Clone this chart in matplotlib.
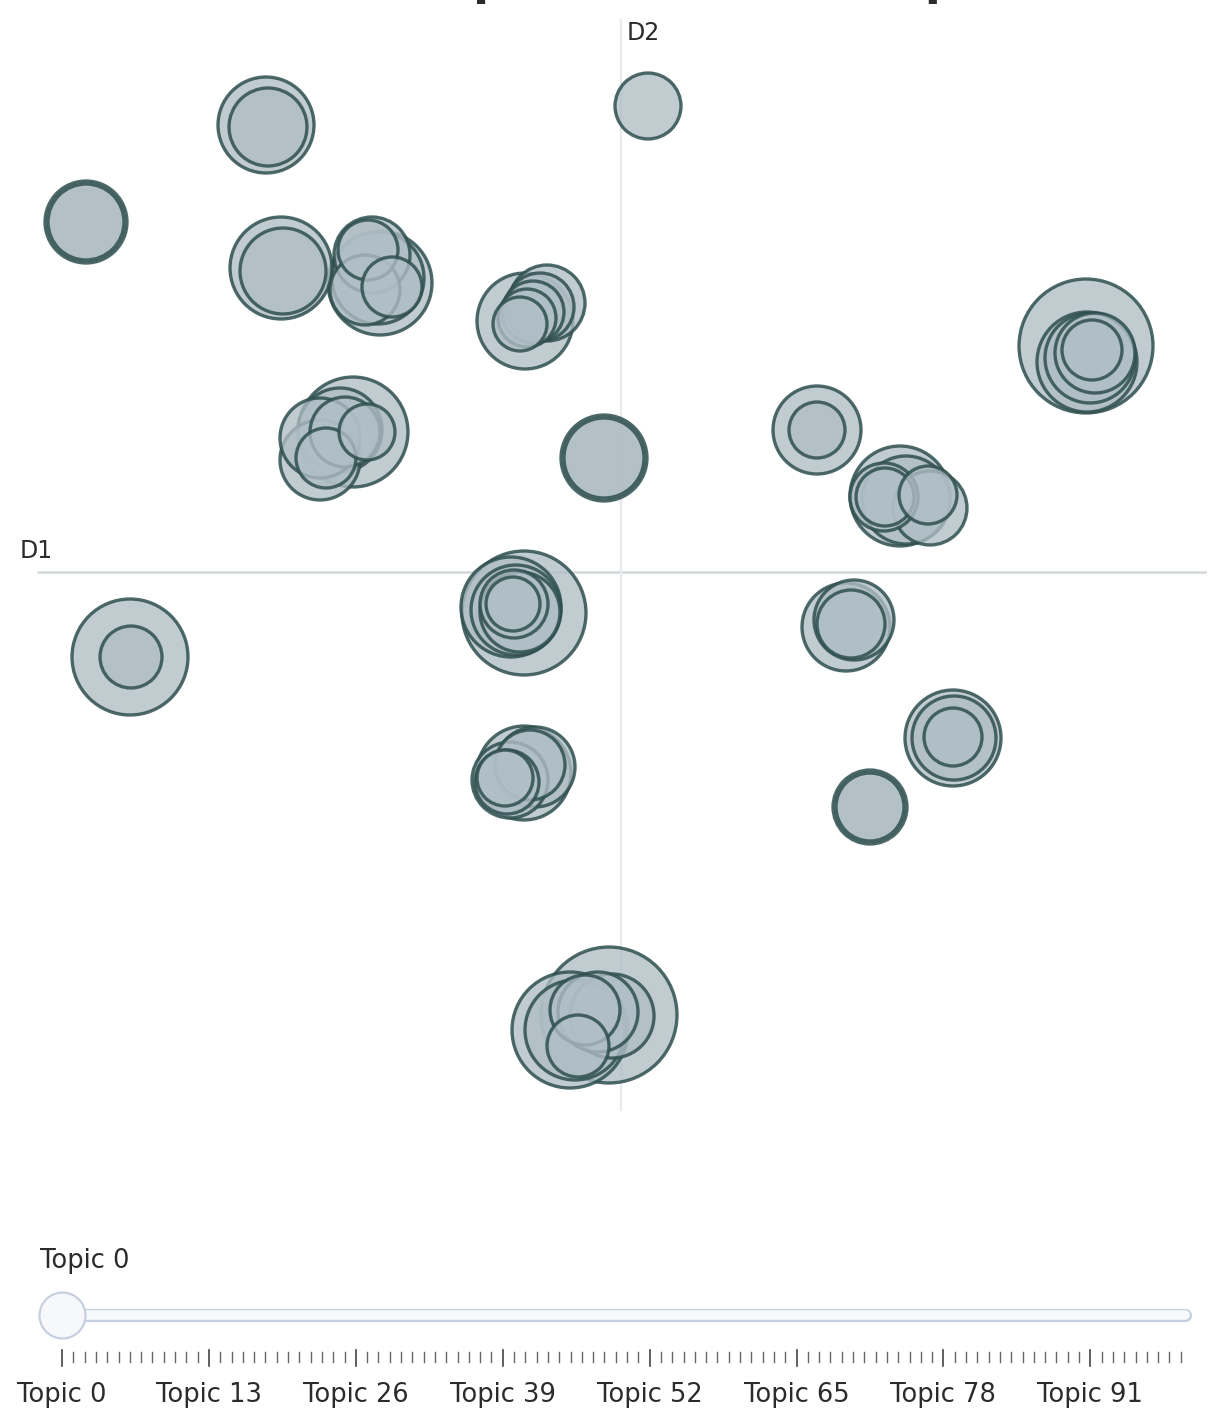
import numpy as np
import matplotlib
matplotlib.use("Agg")
import matplotlib.pyplot as plt

# ---------------- data ----------------
# topic coordinates in the 2-D embedding (D1, D2) and topic sizes
d1 = [0.27, -3.55, -3.53, -5.35, -5.35, -3.40, -3.38,
      -2.41, -2.43, -2.49, -2.53, -2.29, -2.56,
      -0.96, -0.74, -0.81, -0.88, -0.94, -1.01,
      4.65, 4.66, 4.69, 4.74, 4.71,
      1.96, 1.96,
      -2.68, -3.01, -3.01, -2.81, -2.76, -2.95, -2.54,
      -0.17, -0.17,
      2.79, 2.85, 3.09, 2.63, 2.64, 3.07,
      -4.91, -4.90,
      -0.97, -1.10, -1.05, -1.01, -1.07, -1.08,
      2.25, 2.33, 2.30,
      3.32, 3.33, 3.32,
      2.49, 2.49,
      -0.97, -0.86, -0.91, -1.11, -1.14, -1.16,
      -0.12, -0.51, -0.46, -0.09, -0.23, -0.36, -0.43]
d2 = [4.66, 4.47, 4.45, 3.50, 3.50, 3.04, 3.01,
      2.89, 2.94, 3.17, 3.22, 2.85, 2.82,
      2.51, 2.69, 2.65, 2.60, 2.54, 2.48,
      2.26, 2.10, 2.14, 2.19, 2.22,
      1.42, 1.42,
      1.40, 1.12, 1.34, 1.42, 1.40, 1.14, 1.40,
      1.14, 1.14,
      0.76, 0.72, 0.64, 0.75, 0.75, 0.77,
      -0.85, -0.85,
      -0.41, -0.35, -0.38, -0.40, -0.32, -0.32,
      -0.55, -0.48, -0.52,
      -1.66, -1.66, -1.65,
      -2.35, -2.35,
      -2.01, -1.95, -1.93, -2.08, -2.10, -2.06,
      -4.43, -4.58, -4.58, -4.44, -4.40, -4.38, -4.74]
sizes = [272, 576, 380, 420, 361, 650, 462,
         676, 529, 361, 225, 225, 306,
         576, 361, 289, 240, 210, 182,
         1122, 625, 506, 400, 225,
         484, 196,
         756, 400, 400, 441, 306, 225, 196,
         462, 400,
         625, 484, 342, 289, 210, 210,
         841, 240,
         961, 625, 506, 400, 289, 182,
         484, 400, 289,
         576, 441, 210,
         342, 289,
         552, 400, 306, 361, 256, 196,
         1156, 841, 625, 441, 400, 306, 240]

n_topics = 100
slider_labels = ["Topic 0", "Topic 13", "Topic 26", "Topic 39",
                 "Topic 52", "Topic 65", "Topic 78", "Topic 91"]
slider_label_idx = [0, 13, 26, 39, 52, 65, 78, 91]
current_topic = "Topic 0"
title = "Intertopic Distance Map"

# ---------------- figure ----------------
W, H, DPI = 1215, 1411, 100
fig = plt.figure(figsize=(W / DPI, H / DPI), dpi=DPI)
fig.patch.set_facecolor("white")

TXT = "#2b2b2b"
FONT = "DejaVu Sans"

# main scatter axes
ax = fig.add_axes([0, (H - 1160) / H, 1, 1160 / H])
ax.set_xlim(-6.21, 5.94)
ax.set_ylim(-5.88, 5.72)
ax.axis("off")

# axis guide lines
ax.plot([-5.83, 5.84], [0, 0], color="#d3d8db", lw=1.8, zorder=0)
ax.plot([0, 0], [-5.38, 5.52], color="#e8eaec", lw=1.6, zorder=0)
ax.text(-6.01, 0.21, "D1", fontsize=17, color=TXT, family=FONT,
        ha="left", va="center")
ax.text(0.06, 5.39, "D2", fontsize=17, color=TXT, family=FONT,
        ha="left", va="center")

x = np.array(d1)
y = np.array(d2)
f = np.array(sizes, dtype=float)
order = np.argsort(-f, kind="stable")
# radius in px = 2*sqrt(size); marker area in pt^2
s = (2 * 2 * np.sqrt(f) * 72 / DPI) ** 2
face = (176 / 255, 190 / 255, 197 / 255, 0.78)
edge = (47 / 255, 79 / 255, 79 / 255, 0.85)
ax.scatter(x[order], y[order], s=s[order], facecolors=[face],
           edgecolors=[edge], linewidths=2.4, clip_on=False, zorder=2)

# title (mostly above the visible area, as in the reference)
fig.text(624 / W, 1 + 8 / H, title, fontsize=43, fontweight="bold",
         family="Liberation Sans", color=TXT, ha="center", va="baseline")

# ---------------- slider ----------------
sx = fig.add_axes([0, 0, 1, 1])
px_per = 11.3
sx.set_xlim(-62 / px_per, (W - 62) / px_per)
sx.set_ylim(H, 0)
sx.axis("off")
sx.patch.set_alpha(0)

track_end = n_topics - 1 + 0.4
sx.plot([-1.5, track_end], [1315, 1315], color="#c4cede", lw=9.5,
        solid_capstyle="round", zorder=1)
sx.plot([-1.5, track_end], [1315, 1315], color="#f7f9fc", lw=7.0,
        solid_capstyle="round", zorder=2)
sx.scatter([0], [1315], s=(2 * 23 * 0.72) ** 2, facecolor="#f6f8fb",
           edgecolor="#c4cede", linewidth=1.5, zorder=3)

for i in range(n_topics):
    if i % 13 == 0:
        sx.plot([i, i], [1350, 1366], color="#444444", lw=1.2, zorder=1)
    else:
        sx.plot([i, i], [1352, 1362], color="#666666", lw=1.0, zorder=1)

for lbl, idx in zip(slider_labels, slider_label_idx):
    sx.text(idx, 1395, lbl, fontsize=18.5, color=TXT, family=FONT,
            ha="center", va="center")

sx.text(40 / px_per - 62 / px_per, 1261, current_topic, fontsize=18.5,
        color=TXT, family=FONT, ha="left", va="center")

fig.savefig("out.png", dpi=DPI, facecolor="white")
